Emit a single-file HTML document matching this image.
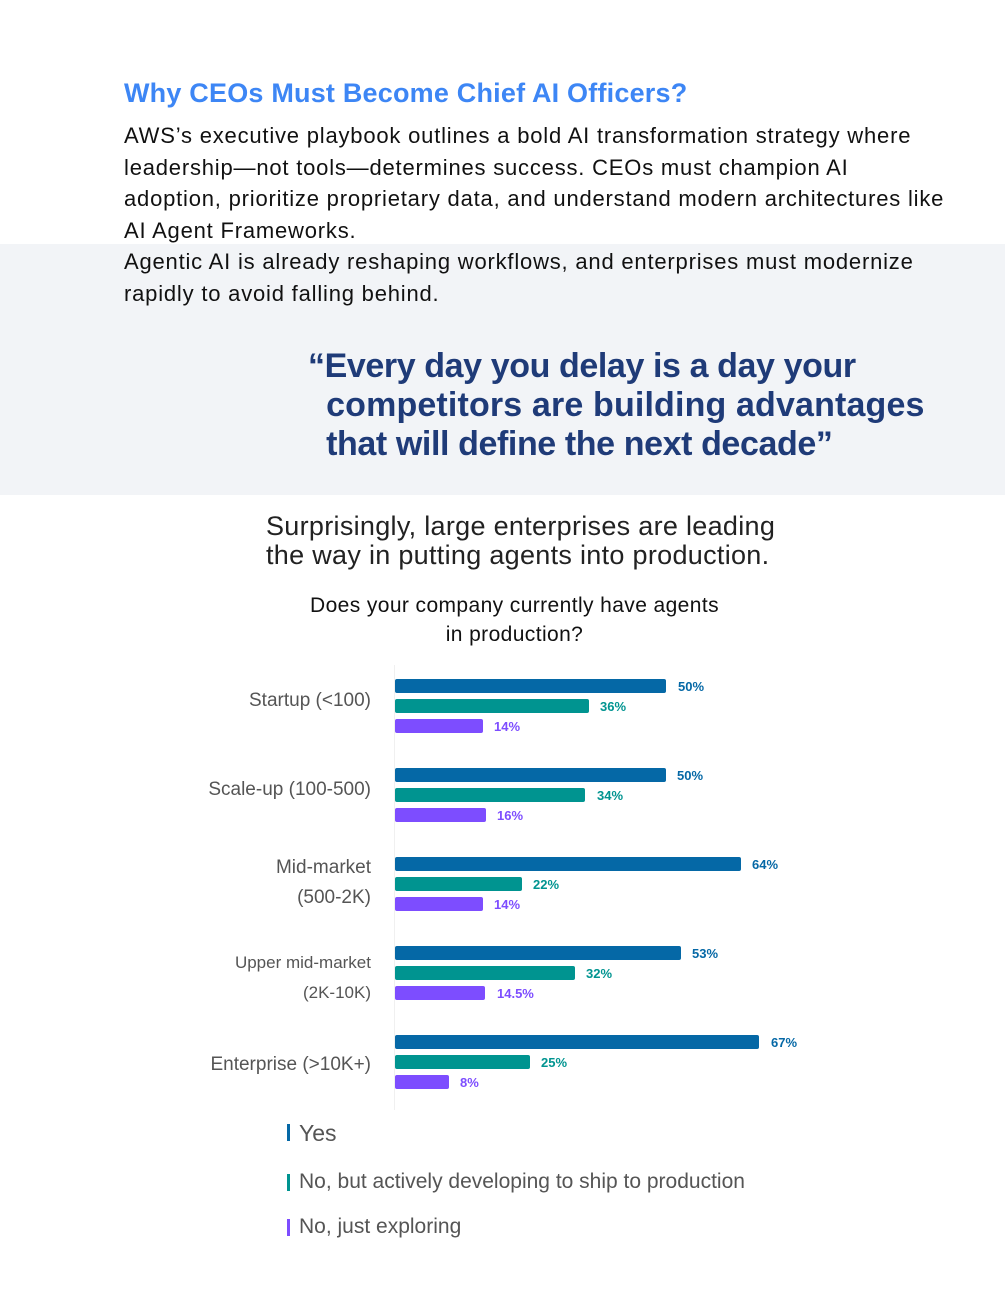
<!DOCTYPE html>
<html><head><meta charset="utf-8"><style>
body{margin:0;width:1005px;height:1311px;background:#fff;position:relative;font-family:"Liberation Sans",sans-serif;overflow:hidden}
.a{position:absolute;white-space:nowrap}
.band{position:absolute;left:0;top:244px;width:1005px;height:251px;background:#f2f4f7}
.body{font-size:22px;color:#111;line-height:31.6px;letter-spacing:0.8px}
.q{font-size:34px;font-weight:bold;color:#1f3b78;line-height:39px;letter-spacing:-0.4px}
.lab{font-size:19px;color:#555;text-align:right;right:634px;line-height:30px}
.bar{position:absolute;left:395px;height:14px;border-radius:2px}
.v{position:absolute;font-size:13px;font-weight:bold}
.b{background:#0568a6}.t{background:#009490}.p{background:#7d4dff}
.leg{font-size:21px;color:#555}
.mk{position:absolute;left:287px;width:3px;height:17px}
</style></head><body>
<div class="band"></div>
<div class="a" style="left:124px;top:78px;font-size:27px;font-weight:bold;color:#3d86f5;letter-spacing:0.2px">Why CEOs Must Become Chief AI Officers?</div>
<div class="a body" style="left:124px;top:120px">AWS’s executive playbook outlines a bold AI transformation strategy where<br>leadership—not tools—determines success. CEOs must champion AI<br>adoption, prioritize proprietary data, and understand modern architectures like<br>AI Agent Frameworks.<br>Agentic AI is already reshaping workflows, and enterprises must modernize<br>rapidly to avoid falling behind.</div>
<div class="a q" style="left:308px;top:347px">“Every day you delay is a day your<br>&nbsp;&nbsp;<span style="letter-spacing:0.15px">competitors are building advantages</span><br>&nbsp;&nbsp;that will define the next decade”</div>
<div class="a" style="left:266px;top:512px;font-size:27px;color:#222;line-height:29px;letter-spacing:0.3px">Surprisingly, large enterprises are leading<br>the way in putting agents into production.</div>
<div class="a" style="left:310px;top:591px;font-size:21px;color:#111;line-height:29px;text-align:center;letter-spacing:0.4px">Does your company currently have agents<br>in production?</div>
<div style="position:absolute;left:394px;top:665px;width:1px;height:445px;background:#f0f0f0"></div>

<div class="a lab" style="top:686px">Startup (&lt;100)</div>
<div class="a lab" style="top:775px">Scale-up (100-500)</div>
<div class="a lab" style="top:853px">Mid-market<br>(500-2K)</div>
<div class="a lab" style="top:948px;font-size:17px">Upper mid-market<br>(2K-10K)</div>
<div class="a lab" style="top:1050px">Enterprise (&gt;10K+)</div>

<div class="bar b" style="top:679px;width:271px"></div><div class="v" style="left:678px;top:679px;color:#0568a6">50%</div>
<div class="bar t" style="top:699px;width:194px"></div><div class="v" style="left:600px;top:699px;color:#009490">36%</div>
<div class="bar p" style="top:719px;width:88px"></div><div class="v" style="left:494px;top:719px;color:#7d4dff">14%</div>

<div class="bar b" style="top:768px;width:271px"></div><div class="v" style="left:677px;top:768px;color:#0568a6">50%</div>
<div class="bar t" style="top:788px;width:190px"></div><div class="v" style="left:597px;top:788px;color:#009490">34%</div>
<div class="bar p" style="top:808px;width:91px"></div><div class="v" style="left:497px;top:808px;color:#7d4dff">16%</div>

<div class="bar b" style="top:857px;width:346px"></div><div class="v" style="left:752px;top:857px;color:#0568a6">64%</div>
<div class="bar t" style="top:877px;width:127px"></div><div class="v" style="left:533px;top:877px;color:#009490">22%</div>
<div class="bar p" style="top:897px;width:88px"></div><div class="v" style="left:494px;top:897px;color:#7d4dff">14%</div>

<div class="bar b" style="top:946px;width:286px"></div><div class="v" style="left:692px;top:946px;color:#0568a6">53%</div>
<div class="bar t" style="top:966px;width:180px"></div><div class="v" style="left:586px;top:966px;color:#009490">32%</div>
<div class="bar p" style="top:986px;width:90px"></div><div class="v" style="left:497px;top:986px;color:#7d4dff">14.5%</div>

<div class="bar b" style="top:1035px;width:364px"></div><div class="v" style="left:771px;top:1035px;color:#0568a6">67%</div>
<div class="bar t" style="top:1055px;width:135px"></div><div class="v" style="left:541px;top:1055px;color:#009490">25%</div>
<div class="bar p" style="top:1075px;width:54px"></div><div class="v" style="left:460px;top:1075px;color:#7d4dff">8%</div>

<div class="mk b" style="top:1124px"></div><div class="a leg" style="left:299px;top:1120px;font-size:23px">Yes</div>
<div class="mk t" style="top:1174px"></div><div class="a leg" style="left:299px;top:1170px">No, but actively developing to ship to production</div>
<div class="mk p" style="top:1219px"></div><div class="a leg" style="left:299px;top:1215px">No, just exploring</div>
</body></html>
